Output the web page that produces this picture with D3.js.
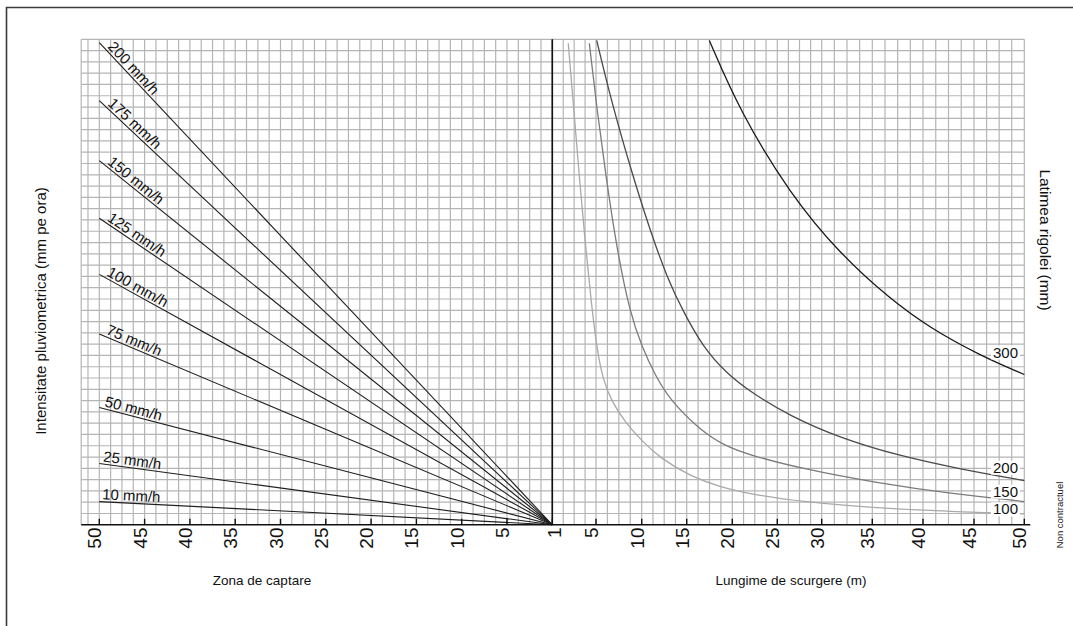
<!DOCTYPE html>
<html><head><meta charset="utf-8">
<script src="https://cdn.jsdelivr.net/npm/d3@7"></script>
<style>html,body{margin:0;padding:0;background:#fff;}svg{display:block;font-family:"Liberation Sans",Arial,Helvetica,sans-serif;}</style>
</head><body><svg id="c" width="1073" height="626"></svg>
<script>
// ---------- DATA ----------
const leftTicks = [50, 45, 40, 35, 30, 25, 20, 15, 10, 5, 1];
const rightTicks = [1, 5, 10, 15, 20, 25, 30, 35, 40, 45, 50];
const intensityLabels = ["10 mm/h", "25 mm/h", "50 mm/h", "75 mm/h", "100 mm/h", "125 mm/h", "150 mm/h", "175 mm/h", "200 mm/h"];
// height (in grid cells) of each intensity line at catchment 50
const intensityStart = [2.05, 5.43, 10.39, 16.9, 22.18, 27.15, 32.25, 37.56, 42.70];
const gutterWidths = ["100", "150", "200", "300"];
// [length (m), height in grid cells]
const curve100 = [[2.46,42.65],[2.99,36.56],[3.47,30.83],[3.99,25.23],[4.54,19.91],[5.11,15.48],[5.77,12.83],[6.75,10.88],[8.17,9.11],[10.03,7.42],[12.03,5.92],[15.36,4.32],[18.65,3.35],[21.97,2.73],[27.56,2.06],[36.75,1.36],[50,0.96]];
const curve150 = [[4.39,42.65],[5.11,36.74],[6.09,30.83],[7.30,24.34],[8.72,18.76],[10.03,15.75],[11.48,13.27],[13.14,11.05],[16.46,8.40],[19.20,6.98],[21.97,6.18],[27.56,4.99],[35.76,3.66],[42.65,2.77],[50,2.06]];
const curve200 = [[5.08,42.9],[6.64,37.63],[9.05,30.83],[10.92,26.11],[12.92,21.68],[14.70,18.76],[16.79,15.75],[19.31,13.45],[22.19,11.67],[26.43,9.64],[31.81,7.69],[37.73,6.09],[43.63,4.94],[50,3.92]];
const curve300 = [[17.48,42.9],[20.86,36.59],[26.43,29.30],[31.81,23.99],[36.75,20.0],[40.69,17.43],[45.6,15.0],[50,13.31]];
const curves = [curve100, curve150, curve200, curve300];

// ---------- LAYOUT ----------
const svg = d3.select("#c");
const gridTop = 43; // grid rows
const y = d3.scaleLinear().domain([0, gridTop]).range([524.8, 39.3]);
const xL = d3.scaleLinear().domain(leftTicks)
  .range(leftTicks.map((d, i) => i < 10 ? 99.3 + i * 45.3 : 552.3));
const xR = d3.scaleLinear().domain(rightTicks)
  .range([552.3, 596, 641.7, 686.7, 732.3, 777.3, 821.7, 872.3, 923, 974, 1024.3]);
const gridLeft = xL(52), gridRight = xR(50);

// border
svg.append("path").attr("d", `M6.5,626V7.5H1073`).attr("fill", "none")
  .attr("stroke", "#3a3a3a").attr("stroke-width", 1.6);

// grid
const grid = svg.append("g").attr("stroke", "#b5b5b5").attr("stroke-width", 1.2);
d3.range(1, gridTop + 1).forEach(v => {
  grid.append("line").attr("x1", gridLeft).attr("x2", gridRight).attr("y1", y(v)).attr("y2", y(v));
});
function subs(ticks) {
  const out = [];
  for (let i = 0; i < ticks.length - 1; i++)
    for (let j = 0; j < 4; j++) out.push(ticks[i] + (ticks[i + 1] - ticks[i]) * j / 4);
  out.push(ticks[ticks.length - 1]);
  return out;
}
const vL = [52, 51.25].concat(subs(leftTicks)).map(xL);
const vR = subs(rightTicks).map(xR);
vL.concat(vR).forEach(px => {
  grid.append("line").attr("x1", px).attr("x2", px).attr("y1", y(gridTop)).attr("y2", y(0));
});

// intensity lines (left)
const lg = svg.append("g");
intensityStart.forEach((v, i) => {
  const x0 = xL(50), y0 = y(v), x1 = xL(1), y1 = y(0);
  lg.append("line").attr("x1", x0).attr("y1", y0).attr("x2", x1).attr("y2", y1)
    .attr("stroke", "#1e1e1e").attr("stroke-width", 1.1);
  const a = Math.atan2(y1 - y0, x1 - x0);
  const ux = Math.cos(a), uy = Math.sin(a);
  const d = 2 + 9 * Math.sin(a), g = 2.5;
  const tx = x0 + ux * d + uy * g, ty = y0 + uy * d - ux * g;
  lg.append("text").attr("transform", `translate(${tx},${ty}) rotate(${a * 180 / Math.PI})`)
    .attr("font-size", 15).attr("fill", "#111").text(intensityLabels[i]);
});

// gutter curves (right)
const colors = ["#a9a9a9", "#7b7b7b", "#4a4a4a", "#1a1a1a"];
const line = d3.line().x(d => xR(d[0])).y(d => y(d[1])).curve(d3.curveBasis);
curves.forEach((c, i) => {
  svg.append("path").attr("d", line(c)).attr("fill", "none")
    .attr("stroke", colors[i]).attr("stroke-width", 1.3);
});

// center line and axis
svg.append("line").attr("x1", xL(1)).attr("x2", xL(1)).attr("y1", y(gridTop)).attr("y2", y(0))
  .attr("stroke", "#111").attr("stroke-width", 1.6);
svg.append("line").attr("x1", gridLeft).attr("x2", gridRight + 6).attr("y1", y(0)).attr("y2", y(0))
  .attr("stroke", "#111").attr("stroke-width", 1.6);

// ticks + labels
function tickSet(scale, ticks) {
  ticks.forEach(t => {
    const px = scale(t);
    svg.append("line").attr("x1", px).attr("x2", px).attr("y1", y(0)).attr("y2", y(0) - 6)
      .attr("stroke", "#111").attr("stroke-width", 1.4);
    const off = t === 1 ? 8.5 : 2;
    svg.append("text").attr("transform", `translate(${px + off},527.5) rotate(-90)`)
      .attr("text-anchor", "end").attr("font-size", 19).attr("fill", "#111").text(t);
  });
}
tickSet(xL, leftTicks.filter(t => t !== 1));
tickSet(xR, rightTicks);

// right labels with white background
const labelBase = [514.3, 496.7, 472.7, 357.5];
gutterWidths.forEach((w, i) => {
  const t = svg.append("text").attr("x", 1018).attr("y", labelBase[i])
    .attr("text-anchor", "end").attr("font-size", 15).attr("fill", "#111").text(w);
  const b = t.node().getBBox();
  svg.insert("rect", () => t.node()).attr("x", b.x - 2).attr("y", b.y + 2)
    .attr("width", b.width + 4).attr("height", b.height - 3).attr("fill", "#fff");
});

// titles
svg.append("text").attr("transform", "translate(46,311) rotate(-90)").attr("text-anchor", "middle")
  .attr("font-size", 15).attr("fill", "#111").text("Intensitate pluviometrica (mm pe ora)");
svg.append("text").attr("transform", "translate(1039.5,240) rotate(90)").attr("text-anchor", "middle")
  .attr("font-size", 15.5).attr("fill", "#111").text("Latimea rigolei (mm)");
svg.append("text").attr("x", 262).attr("y", 585).attr("text-anchor", "middle")
  .attr("font-size", 13.5).attr("fill", "#111").text("Zona de captare");
svg.append("text").attr("x", 791).attr("y", 585).attr("text-anchor", "middle")
  .attr("font-size", 13.5).attr("fill", "#111").text("Lungime de scurgere (m)");
svg.append("text").attr("transform", "translate(1062.5,515) rotate(-90)").attr("text-anchor", "middle")
  .attr("font-size", 9.5).attr("fill", "#111").text("Non contractuel");
</script></body></html>
